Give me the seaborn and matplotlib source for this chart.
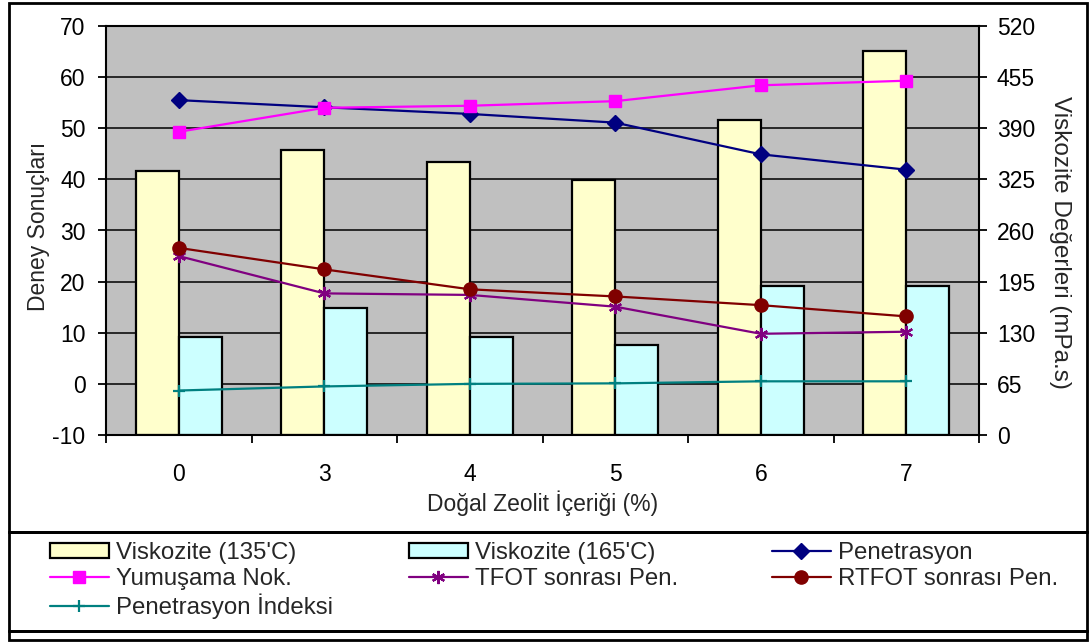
import numpy as np
import pandas as pd
import seaborn as sns
import matplotlib
matplotlib.use("Agg")
import matplotlib.pyplot as plt
from matplotlib.patches import Patch, Rectangle
from matplotlib.lines import Line2D

# ---- data -------------------------------------------------------------
zeolit = ["0", "3", "4", "5", "6", "7"]

visk_135 = [336, 362, 347, 324, 400, 488]      # mPa.s
visk_165 = [125, 162, 125, 114, 189, 189]      # mPa.s

penetrasyon = [55.5, 54.1, 52.8, 51.1, 44.9, 41.9]
yumusama = [49.3, 54.0, 54.4, 55.3, 58.4, 59.3]
tfot_pen = [25.0, 17.7, 17.4, 15.1, 9.8, 10.2]
rtfot_pen = [26.6, 22.4, 18.5, 17.1, 15.4, 13.2]
pen_indeksi = [-1.3, -0.5, 0.0, 0.1, 0.5, 0.5]

sol_ticks = list(range(-10, 71, 10))
sag_ticks = list(range(0, 521, 65))

# ---- style ------------------------------------------------------------
sns.set_theme(style="ticks")
plt.rcParams["font.family"] = ["Liberation Sans", "DejaVu Sans"]
plt.rcParams["axes.unicode_minus"] = False

W, H = 1091, 643
fig = plt.figure(figsize=(W / 100, H / 100), dpi=100)
fig.patch.set_facecolor("white")

def fx(px):
    return px / W

def fy(py):
    return 1 - py / H

# plot area
left, right, top, bottom = 106, 979, 26, 435
ax_b = fig.add_axes([fx(left), fy(bottom), fx(right - left), (bottom - top) / H])
ax_b.set_facecolor("#C0C0C0")

# ---- bars (viscosity, right axis) -------------------------------------
bar_df = pd.DataFrame({
    "zeolit": zeolit * 2,
    "deger": visk_135 + visk_165,
    "seri": ["Viskozite (135'C)"] * len(zeolit) + ["Viskozite (165'C)"] * len(zeolit),
})
bar_colors = {"Viskozite (135'C)": "#FFFFCC", "Viskozite (165'C)": "#CCFFFF"}
sns.barplot(data=bar_df, x="zeolit", y="deger", hue="seri", order=zeolit,
            hue_order=list(bar_colors), palette=bar_colors, width=0.59,
            edgecolor="black", linewidth=1.6, saturation=1, errorbar=None,
            legend=False, ax=ax_b, zorder=2)

ax_b.set_ylim(0, 520)
ax_b.set_yticks(sag_ticks)
ax_b.set_xlim(-0.5, len(zeolit) - 0.5)
ax_b.grid(axis="y", color="black", linewidth=1.1)
ax_b.grid(axis="x", visible=False)
ax_b.set_axisbelow(True)
for s in ax_b.spines.values():
    s.set_visible(True)
    s.set_color("black")
    s.set_linewidth(1.5)

# ---- lines (test results, left axis) ----------------------------------
ax_l = ax_b.twinx()
ax_l.patch.set_visible(False)
for s in ax_l.spines.values():
    s.set_visible(False)

# bars keep the right-hand scale, lines the left-hand one
ax_b.yaxis.tick_right()
ax_b.yaxis.set_label_position("right")
ax_l.yaxis.tick_left()
ax_l.yaxis.set_label_position("left")

xpos = np.arange(len(zeolit))
line_specs = [
    ("Penetrasyon", penetrasyon, "#000080", "D", 8, 1.0),
    ("Yumuşama Nok.", yumusama, "#FF00FF", "s", 9, 1.0),
    ("TFOT sonrası Pen.", tfot_pen, "#800080", (6, 2, 0), 9.5, 1.6),
    ("RTFOT sonrası Pen.", rtfot_pen, "#800000", "o", 9.5, 1.0),
    ("Penetrasyon İndeksi", pen_indeksi, "#008080", "+", 9, 1.6),
]
handles = {}
for name, vals, col, mk, ms, mew in line_specs:
    sns.lineplot(x=xpos, y=vals, ax=ax_l, color=col, marker=mk, markersize=ms,
                 markeredgewidth=mew, markeredgecolor=col, markerfacecolor=col,
                 linewidth=1.6, zorder=3)
    handles[name] = Line2D([], [], color=col, marker=mk, markersize=ms,
                           markeredgewidth=mew, markeredgecolor=col,
                           markerfacecolor=col, linewidth=1.6)
for name, col in bar_colors.items():
    handles[name] = Patch(facecolor=col, edgecolor="black", linewidth=1.6)

ax_l.set_ylim(-10, 70)
ax_l.set_yticks(sol_ticks)

# ---- ticks & labels ---------------------------------------------------
tfs = 16.5
ax_l.tick_params(axis="y", direction="out", length=5.8, width=1.3, pad=9,
                 labelsize=tfs, colors="black", left=True, right=False,
                 labelleft=True, labelright=False)
ax_b.tick_params(axis="y", direction="out", length=5.8, width=1.3, pad=7,
                 labelsize=tfs, colors="black", left=False, right=True,
                 labelleft=False, labelright=True)
ax_b.set_xticks(xpos)
ax_b.set_xticklabels(zeolit)
ax_b.set_xticks(np.arange(-0.5, len(zeolit), 1.0), minor=True)
ax_b.tick_params(axis="x", which="major", length=0, pad=20, labelsize=tfs,
                 colors="black")
ax_b.tick_params(axis="x", which="minor", direction="out", length=5.8,
                 width=1.3, colors="black", bottom=True)

ax_b.set_xlabel("Doğal Zeolit İçeriği (%)", fontsize=16.5, labelpad=3)
ax_l.set_ylabel("Deney Sonuçları", fontsize=16.5, labelpad=2, y=0.51)
ax_b.set_ylabel("Viskozite Değerleri (mPa.s)", fontsize=17.5, rotation=-90,
                labelpad=26, y=0.47)

# ---- legend (three columns) -------------------------------------------
columns = [
    (50, ["Viskozite (135'C)", "Yumuşama Nok.", "Penetrasyon İndeksi"]),
    (409, ["Viskozite (165'C)", "TFOT sonrası Pen."]),
    (772, ["Penetrasyon", "RTFOT sonrası Pen."]),
]
for x0, names in columns:
    fig.legend([handles[n] for n in names], names, loc="upper left",
               bbox_to_anchor=(fx(x0), fy(542)), frameon=False, fontsize=17.3,
               borderpad=0, borderaxespad=0, handlelength=2.45,
               handleheight=0.55, handletextpad=0.3, labelspacing=0.15)

# ---- frame boxes ------------------------------------------------------
def box(x0, y0, x1, y1, lw=2.0):
    fig.add_artist(Rectangle((fx(x0), fy(y1)), fx(x1 - x0), (y1 - y0) / H,
                             transform=fig.transFigure, fill=False,
                             edgecolor="black", linewidth=lw))

box(9, 3, 1087, 532)
box(9, 532, 1087, 631)
box(9, 631, 1087, 640)

fig.savefig("out.png", dpi=100)
